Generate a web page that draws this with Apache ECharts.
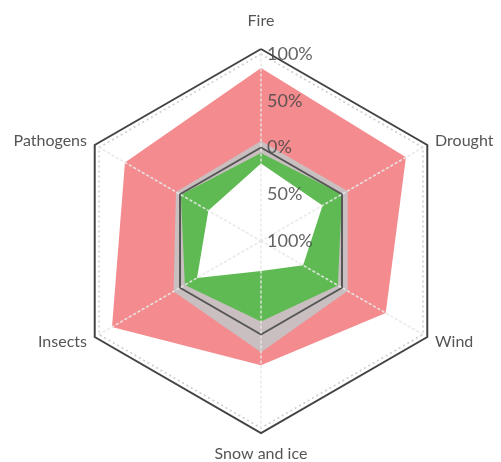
<!DOCTYPE html>
<html>
<head>
<meta charset="utf-8">
<script src="https://cdn.jsdelivr.net/npm/echarts@6/dist/echarts.min.js"></script>
<style>
    html, body { margin: 0; padding: 0; background: #fff; }
    #main { width: 501px; height: 462px; }
</style>
</head>
<body>
<div id="main"></div>
<script>
// 指标（逆时针排列，从顶部开始）
var indicators = ['Fire', 'Pathogens', 'Insects', 'Snow and ice', 'Wind', 'Drought'];
// 增加（红色区域外缘）
var increaseValues = [85, 68, 84, 33, 54, 79];
// 灰色带外缘
var bandValues = [7, 5, 8, 19, 7, 7];
// 减少（绿色区域外缘）
var decreaseOuter = [-6, -1, -6, -14, -5, 0];
// 减少（白色内区）
var decreaseInner = [-17, -35, -21, -68, -48, -24];
// 零线
var zeroLine = [0, 0, 0, 0, 0, 0];
// 刻度
var tickMin = -100, tickMax = 100;

var myChart = echarts.init(document.getElementById('main'));

var center = [261, 241];
var font = 'Lato';

function ind() {
    return indicators.map(function (n) {
        return { name: n, min: tickMin, max: tickMax };
    });
}

var option = {
    animation: false,
    backgroundColor: '#fff',
    radar: [
        {   // 主坐标（系列挂在这里）
            center: center,
            radius: 187,
            z: 0,
            indicator: ind(),
            splitNumber: 2,
            axisName: { show: false },
            axisLine: { show: false },
            splitArea: { show: false },
            splitLine: {
                lineStyle: {
                    color: ['rgba(0,0,0,0)', 'rgba(0,0,0,0)', '#cfcfcf'],
                    type: [2, 3],
                    width: 1.5
                }
            }
        },
        {   // 外框 + 名称
            center: center,
            radius: 192,
            z: 0,
            indicator: ind(),
            splitNumber: 1,
            axisLine: { show: false },
            splitArea: { show: false },
            splitLine: { lineStyle: { color: '#444', width: 2 } },
            axisNameGap: 9,
            axisName: {
                color: '#555',
                fontFamily: font,
                fontSize: 16,
                formatter: function (name) {
                    if (name === 'Fire') return '{top|' + name + '}';
                    if (name === 'Snow and ice') return '{bottom|' + name + '}';
                    return name;
                },
                rich: {
                    top: { padding: [0, 0, 11, 0], color: '#555', fontFamily: font, fontSize: 16 },
                    bottom: { padding: [4, 0, 0, 0], color: '#555', fontFamily: font, fontSize: 16 }
                }
            }
        },
        {   // 虚线轴（在面积上层）
            center: center,
            radius: 189,
            z: 5,
            indicator: ind(),
            splitNumber: 1,
            axisName: { show: false },
            splitLine: { show: false },
            splitArea: { show: false },
            axisLine: {
                lineStyle: { color: 'rgba(232,232,232,0.9)', type: [2, 3], width: 1.5 }
            }
        },
        {   // Fire 轴上的刻度标签
            center: center,
            radius: 187,
            z: 6,
            indicator: [{ name: '', min: tickMin, max: tickMax }],
            splitNumber: 4,
            axisName: { show: false },
            axisLine: { show: false },
            splitLine: { show: false },
            splitArea: { show: false },
            axisLabel: {
                show: true,
                color: 'rgba(70,70,70,0.85)',
                fontFamily: font,
                fontSize: 18,
                align: 'left',
                margin: -6,
                formatter: function (v) {
                    return Math.abs(v) + '%';
                }
            }
        }
    ],
    series: [
        {
            name: 'Increase',
            type: 'radar',
            radarIndex: 0,
            z: 2,
            symbol: 'none',
            lineStyle: { width: 0 },
            itemStyle: { color: '#f48b8e' },
            areaStyle: { color: '#f48b8e', opacity: 1 },
            data: [{ value: increaseValues }]
        },
        {
            name: 'Band',
            type: 'radar',
            radarIndex: 0,
            z: 2,
            symbol: 'none',
            lineStyle: { width: 0 },
            itemStyle: { color: '#c9bfc0' },
            areaStyle: { color: '#c9bfc0', opacity: 1 },
            data: [{ value: bandValues }]
        },
        {
            name: 'Decrease',
            type: 'radar',
            radarIndex: 0,
            z: 2,
            symbol: 'none',
            lineStyle: { width: 0 },
            itemStyle: { color: '#5fba53' },
            areaStyle: { color: '#5fba53', opacity: 1 },
            data: [{ value: decreaseOuter }]
        },
        {
            name: 'Inner',
            type: 'radar',
            radarIndex: 0,
            z: 2,
            symbol: 'none',
            lineStyle: { width: 0 },
            itemStyle: { color: '#ffffff' },
            areaStyle: { color: '#ffffff', opacity: 1 },
            data: [{ value: decreaseInner }]
        },
        {
            name: 'Zero',
            type: 'radar',
            radarIndex: 0,
            z: 3,
            symbol: 'none',
            lineStyle: { width: 2, color: '#555' },
            itemStyle: { color: '#555' },
            data: [{ value: zeroLine }]
        }
    ]
};
myChart.setOption(option);
</script>
</body>
</html>
